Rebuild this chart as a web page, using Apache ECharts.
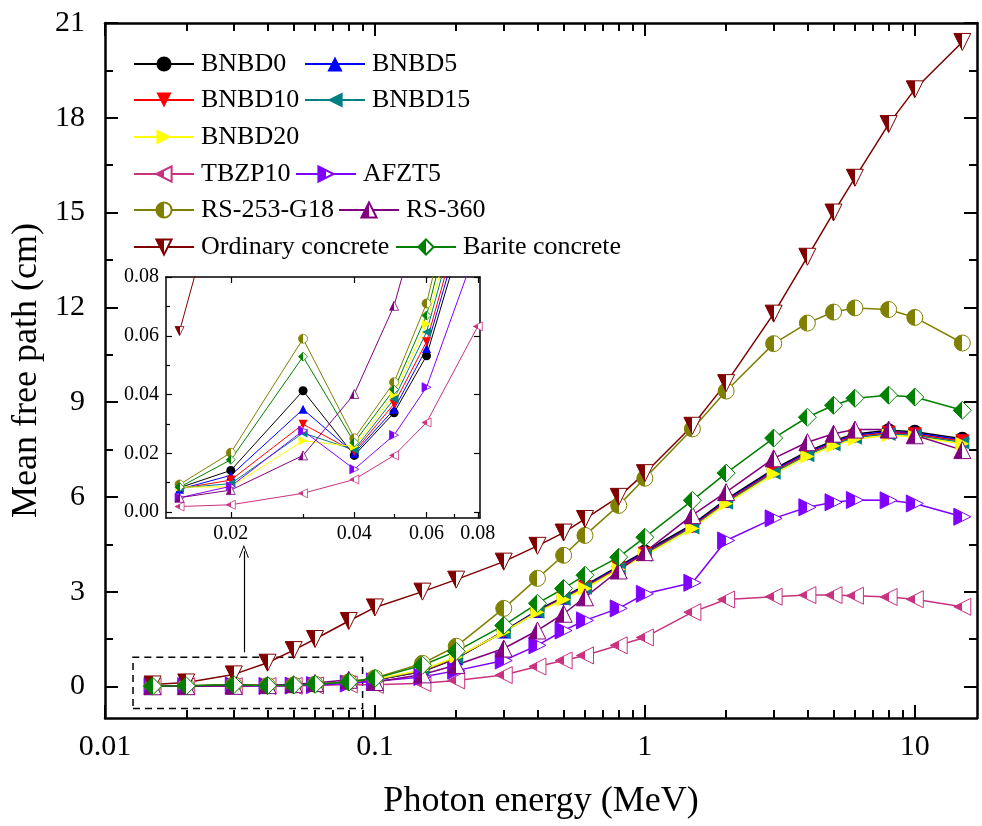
<!DOCTYPE html>
<html lang="en">
<head>
    <meta charset="UTF-8">
    <title>mean free path</title>
    <script src="https://cdn.jsdelivr.net/npm/echarts@6/dist/echarts.min.js"></script>
</head>
<body style="margin:0;background:#fff;">
<div id="main" style="width:982px;height:826px;"></div>
<script type="text/javascript">
// photon energies (MeV)
var energy = [0.015, 0.02, 0.03, 0.04, 0.05, 0.06, 0.08, 0.1, 0.15, 0.2, 0.3, 0.4, 0.5, 0.6, 0.8, 1, 1.5, 2, 3, 4, 5, 6, 8, 10, 15];
// mean free path (cm)
var bnbd0  = [0.0083, 0.0142, 0.0413, 0.0193, 0.0338, 0.0532, 0.112, 0.20, 0.47, 0.88, 1.75, 2.41, 2.83, 3.20, 3.81, 4.27, 5.13, 5.92, 6.88, 7.44, 7.78, 7.99, 8.11, 8.06, 7.84];
var bnbd5  = [0.0078, 0.0125, 0.0350, 0.0200, 0.0350, 0.0557, 0.116, 0.205, 0.48, 0.89, 1.74, 2.39, 2.81, 3.17, 3.78, 4.23, 5.09, 5.88, 6.84, 7.40, 7.74, 7.95, 8.07, 8.02, 7.80];
var bnbd10 = [0.0080, 0.0109, 0.0299, 0.0206, 0.0368, 0.0580, 0.120, 0.21, 0.49, 0.90, 1.73, 2.37, 2.79, 3.14, 3.75, 4.20, 5.06, 5.85, 6.80, 7.36, 7.70, 7.91, 8.03, 7.98, 7.76];
var bnbd15 = [0.0082, 0.0097, 0.0269, 0.0212, 0.0385, 0.0613, 0.125, 0.22, 0.50, 0.92, 1.72, 2.36, 2.77, 3.12, 3.72, 4.17, 5.03, 5.81, 6.76, 7.32, 7.66, 7.87, 7.99, 7.94, 7.72];
var bnbd20 = [0.0085, 0.0086, 0.0243, 0.0223, 0.0400, 0.0640, 0.130, 0.23, 0.52, 0.93, 1.72, 2.35, 2.75, 3.10, 3.70, 4.15, 5.00, 5.78, 6.72, 7.28, 7.62, 7.83, 7.95, 7.90, 7.68];
var tbzp10 = [0.0019, 0.0025, 0.0064, 0.0111, 0.0193, 0.0305, 0.0632, 0.05, 0.10, 0.19, 0.36, 0.63, 0.82, 0.98, 1.30, 1.55, 2.35, 2.75, 2.84, 2.89, 2.89, 2.87, 2.83, 2.76, 2.52];
var afzt5  = [0.0049, 0.0088, 0.0277, 0.0146, 0.0262, 0.0425, 0.091, 0.16, 0.30, 0.50, 0.82, 1.30, 1.77, 2.09, 2.47, 2.93, 3.28, 4.62, 5.32, 5.67, 5.83, 5.90, 5.89, 5.79, 5.37];
var rs253  = [0.0094, 0.0202, 0.0590, 0.0251, 0.0442, 0.0710, 0.145, 0.27, 0.73, 1.27, 2.47, 3.42, 4.15, 4.78, 5.73, 6.59, 8.15, 9.35, 10.85, 11.50, 11.85, 11.98, 11.93, 11.68, 10.87];
var rs360  = [0.0049, 0.0075, 0.0193, 0.0402, 0.0702, 0.110, 0.21, 0.14, 0.38, 0.68, 1.20, 1.77, 2.30, 2.82, 3.67, 4.25, 5.42, 6.15, 7.22, 7.73, 8.00, 8.13, 8.13, 7.95, 7.48];
var ordinary = [0.0616, 0.125, 0.38, 0.75, 1.15, 1.50, 2.07, 2.50, 3.00, 3.38, 3.95, 4.45, 4.87, 5.30, 6.00, 6.75, 8.25, 9.60, 11.80, 13.60, 15.00, 16.10, 17.80, 18.90, 20.40];
var barite = [0.0085, 0.0178, 0.0529, 0.0237, 0.0417, 0.0669, 0.137, 0.255, 0.67, 1.11, 1.93, 2.63, 3.10, 3.52, 4.09, 4.72, 5.89, 6.75, 7.86, 8.52, 8.90, 9.12, 9.22, 9.16, 8.74];

// ticks
var xMajor = [0.01, 0.1, 1, 10];
var xMinor = [0.02, 0.03, 0.04, 0.05, 0.06, 0.07, 0.08, 0.09, 0.2, 0.3, 0.4, 0.5, 0.6, 0.7, 0.8, 0.9, 2, 3, 4, 5, 6, 7, 8, 9];
var yMajor = [0, 3, 6, 9, 12, 15, 18, 21];
var yMinor = [1.5, 4.5, 7.5, 10.5, 13.5, 16.5, 19.5];
var inXMajor = [0.02, 0.04, 0.06, 0.08];
var inXMinor = [0.03, 0.05, 0.07];
var inYMajor = [0, 0.02, 0.04, 0.06, 0.08];
var inYMinor = [0.01, 0.03, 0.05, 0.07];

var FONT = 'Liberation Serif';
var myChart = echarts.init(document.getElementById('main'));

var TRI_DOWN = 'path://M0,0L2,0L1,2Z';
var TRI_LEFT = 'path://M0,1L2,0L2,2Z';
var TRI_RIGHT = 'path://M0,0L2,1L0,2Z';

function half(c) {
    return {
        type: 'linear', x: 0, y: 0, x2: 1, y2: 0,
        colorStops: [
            {offset: 0, color: c}, {offset: 0.5, color: c},
            {offset: 0.5, color: '#fff'}, {offset: 1, color: '#fff'}
        ]
    };
}

// name, values, colour, symbol, half filled?, size
var defs = [
    ['BNBD0', bnbd0, '#000000', 'circle', false, 14],
    ['BNBD5', bnbd5, '#0000ff', 'triangle', false, 14],
    ['BNBD10', bnbd10, '#ff0000', TRI_DOWN, false, 14],
    ['BNBD15', bnbd15, '#008080', TRI_LEFT, false, 14],
    ['BNBD20', bnbd20, '#ffff00', TRI_RIGHT, false, 14],
    ['TBZP10', tbzp10, '#c8327f', TRI_LEFT, true, 17],
    ['AFZT5', afzt5, '#8000ff', TRI_RIGHT, true, 17],
    ['RS-253-G18', rs253, '#808000', 'circle', true, 16],
    ['RS-360', rs360, '#800080', 'triangle', true, 17],
    ['Ordinary concrete', ordinary, '#800000', TRI_DOWN, true, 17],
    ['Barite concrete', barite, '#008000', 'diamond', true, 18]
];

var series = [];
defs.forEach(function (d) {
    var pts = energy.map(function (e, i) { return [e, d[1][i]]; });
    var style = {
        color: d[4] ? half(d[2]) : d[2],
        borderColor: d[2],
        borderWidth: d[4] ? 1 : 0
    };
    series.push({
        name: d[0], type: 'line', xAxisIndex: 0, yAxisIndex: 0,
        data: pts, symbol: d[3], symbolSize: d[5],
        lineStyle: {color: d[2], width: 1.5},
        itemStyle: style, z: 3
    });
    // inset
    series.push({
        name: d[0], type: 'line', xAxisIndex: 4, yAxisIndex: 4,
        data: pts.slice(0, 8), symbol: d[3], symbolSize: 9,
        lineStyle: {color: d[2], width: 1},
        itemStyle: {color: style.color, borderColor: d[2], borderWidth: d[4] ? 0.8 : 0},
        z: 5
    });
});

// dashed box and arrow
series[0].markArea = {
    silent: true,
    itemStyle: {color: 'rgba(0,0,0,0)', borderColor: '#000', borderWidth: 1.5, borderType: [7, 5]},
    label: {show: false},
    data: [[{coord: [0.0127, -0.7]}, {coord: [0.09, 0.92]}]]
};
series[0].markLine = {
    silent: true,
    symbol: ['none', 'path://M5,0L10,12L9,12L5,2.4L1,12L0,12Z'],
    symbolSize: [10, 13],
    lineStyle: {color: '#000', width: 1.2, type: 'solid'},
    label: {show: false},
    data: [[{coord: [0.0327, 1.08]}, {coord: [0.0327, 4.28]}]]
};

var legendPos = [
    ['BNBD0', 133, 62], ['BNBD5', 304, 62],
    ['BNBD10', 133, 98], ['BNBD15', 304, 98],
    ['BNBD20', 133, 135],
    ['TBZP10', 133, 172], ['AFZT5', 295, 172],
    ['RS-253-G18', 133, 208], ['RS-360', 338, 208],
    ['Ordinary concrete', 133, 245], ['Barite concrete', 395, 245]
];
var legends = legendPos.map(function (p) {
    return {
        data: [p[0]], left: p[1], top: p[2] - 11, padding: 0,
        itemWidth: 60, itemHeight: 19, itemGap: 0,
        textStyle: {fontFamily: FONT, fontSize: 26, color: '#000', padding: [0, 0, 0, 2]}
    };
});

function tickAxis(opt, vals, len, width) {
    opt.axisTick = {show: true, inside: true, length: len, customValues: vals, lineStyle: {color: '#000', width: width}};
    opt.splitLine = {show: false};
    return opt;
}

var mainLine = {show: true, onZero: false, lineStyle: {color: '#000', width: 2.5}};
var inLine = {show: true, onZero: false, lineStyle: {color: '#000', width: 1.5}};
var noLine = {show: false, onZero: false};
var noLabel = {show: false};

var xAxes = [
    tickAxis({
        type: 'log', gridIndex: 0, min: 0.01, max: 17, position: 'bottom', axisLine: mainLine,
        axisLabel: {customValues: xMajor, margin: 14, fontFamily: FONT, fontSize: 30, color: '#000',
            formatter: function (v) { return String(v); }},
        name: 'Photon energy (MeV)', nameLocation: 'middle', nameGap: 66,
        nameTextStyle: {fontFamily: FONT, fontSize: 36, color: '#000'}
    }, xMajor, 13, 2),
    tickAxis({type: 'log', gridIndex: 0, min: 0.01, max: 17, position: 'bottom',
        axisLine: noLine, axisLabel: noLabel}, xMinor, 8, 2),
    tickAxis({type: 'log', gridIndex: 0, min: 0.01, max: 17, position: 'top',
        axisLine: mainLine, axisLabel: noLabel}, xMajor, 13, 2),
    tickAxis({type: 'log', gridIndex: 0, min: 0.01, max: 17, position: 'top',
        axisLine: noLine, axisLabel: noLabel}, xMinor, 8, 2),
    tickAxis({
        type: 'log', gridIndex: 1, min: 0.0139, max: 0.081, position: 'bottom', axisLine: inLine,
        axisLabel: {customValues: inXMajor, margin: 6, fontFamily: FONT, fontSize: 20, color: '#000',
            formatter: function (v) { return v.toFixed(2); }}
    }, inXMajor, 6, 1.2),
    tickAxis({type: 'log', gridIndex: 1, min: 0.0139, max: 0.081, position: 'bottom',
        axisLine: noLine, axisLabel: noLabel}, inXMinor, 4, 1.2),
    tickAxis({type: 'log', gridIndex: 1, min: 0.0139, max: 0.081, position: 'top',
        axisLine: inLine, axisLabel: noLabel}, inXMajor, 6, 1.2)
];

var yAxes = [
    tickAxis({
        type: 'value', gridIndex: 0, min: -1, max: 21, position: 'left', axisLine: mainLine,
        axisLabel: {customValues: yMajor, margin: 20, fontFamily: FONT, fontSize: 30, color: '#000'},
        name: 'Mean free path (cm)', nameLocation: 'middle', nameGap: 50,
        nameTextStyle: {fontFamily: FONT, fontSize: 36, color: '#000'}
    }, yMajor, 13, 2),
    tickAxis({type: 'value', gridIndex: 0, min: -1, max: 21, position: 'left',
        axisLine: noLine, axisLabel: noLabel}, yMinor, 8, 2),
    tickAxis({type: 'value', gridIndex: 0, min: -1, max: 21, position: 'right',
        axisLine: mainLine, axisLabel: noLabel}, yMajor, 13, 2),
    tickAxis({type: 'value', gridIndex: 0, min: -1, max: 21, position: 'right',
        axisLine: noLine, axisLabel: noLabel}, yMinor, 8, 2),
    tickAxis({
        type: 'value', gridIndex: 1, min: -0.002, max: 0.08, position: 'left', axisLine: inLine,
        axisLabel: {customValues: inYMajor, margin: 7, fontFamily: FONT, fontSize: 20, color: '#000',
            formatter: function (v) { return v.toFixed(2); }}
    }, inYMajor, 6, 1.2),
    tickAxis({type: 'value', gridIndex: 1, min: -0.002, max: 0.08, position: 'left',
        axisLine: noLine, axisLabel: noLabel}, inYMinor, 4, 1.2),
    tickAxis({type: 'value', gridIndex: 1, min: -0.002, max: 0.08, position: 'right',
        axisLine: inLine, axisLabel: noLabel}, inYMajor, 6, 1.2)
];

var option = {
    animation: false,
    backgroundColor: '#fff',
    legend: legends,
    grid: [
        {left: 105, top: 23, right: 5, bottom: 108, containLabel: false},
        {left: 166, top: 277, width: 314, height: 241, show: true, backgroundColor: '#fff', borderWidth: 0}
    ],
    xAxis: xAxes,
    yAxis: yAxes,
    series: series
};
myChart.setOption(option);
</script>
</body>
</html>
